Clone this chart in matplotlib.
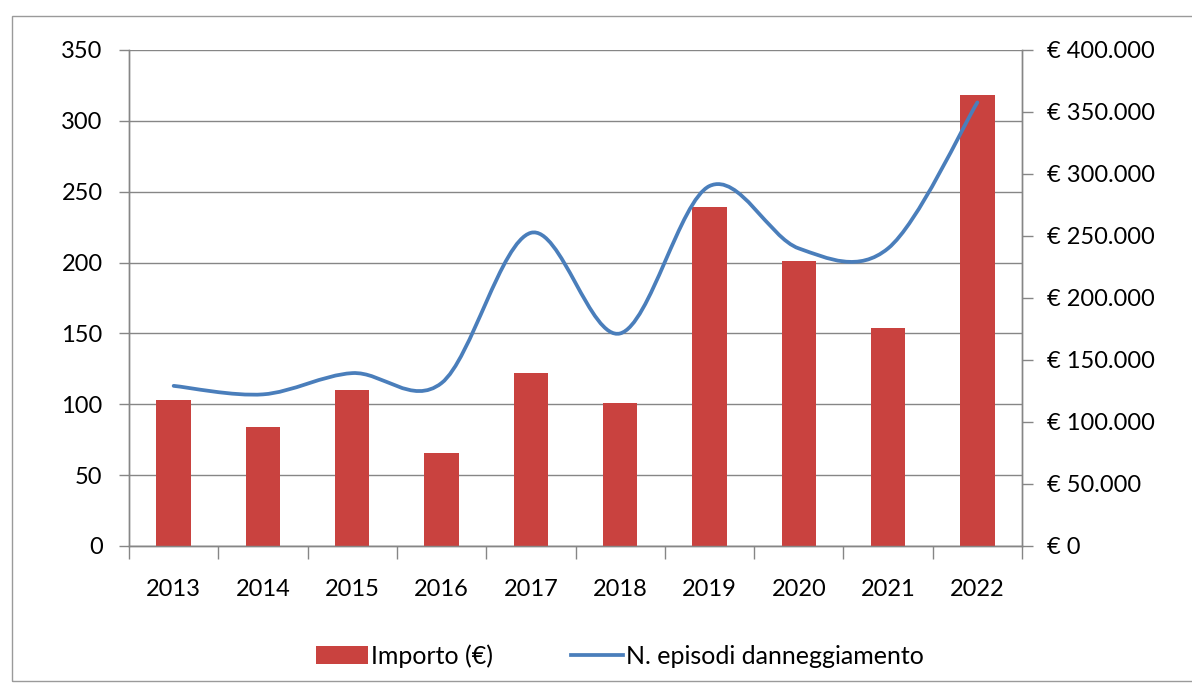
import matplotlib
matplotlib.use("Agg")
import matplotlib.pyplot as plt
from matplotlib.path import Path
from matplotlib.patches import PathPatch, Rectangle
from matplotlib.lines import Line2D
from matplotlib.ticker import FuncFormatter, FixedLocator

# data
years = ["2013", "2014", "2015", "2016", "2017", "2018", "2019", "2020", "2021", "2022"]
importo = [117500, 95800, 125600, 74900, 139400, 115000, 273100, 229700, 175500, 364000]
episodi = [113, 107, 122, 115, 221, 150, 254, 210, 210, 313]

left_ticks = [0, 50, 100, 150, 200, 250, 300, 350]
right_ticks = [0, 50000, 100000, 150000, 200000, 250000, 300000, 350000, 400000]

plt.rcParams["font.family"] = ["Lato", "DejaVu Sans"]
FS = 17
GRID = "#868686"
BAR = "#C9423F"
LINE = "#4A7EBB"

fig = plt.figure(figsize=(11.92, 6.87), dpi=100)
fig.patch.set_facecolor("white")

# outer frame of the chart object
fig.patches.append(Rectangle((12 / 1192, 1 - 681 / 687), 1.2, (681 - 16) / 687,
                             transform=fig.transFigure, fill=False,
                             edgecolor="#9A9A9A", linewidth=1.0))

rect = [129 / 1192, 1 - 546 / 687, (1022 - 129) / 1192, (546 - 50) / 687]
ax = fig.add_axes(rect)          # left axis + grid (bottom layer)
ax2 = ax.twinx()                 # euro axis with bars
ax3 = ax2.twinx()                # line, same scale as left axis
ax3.axis("off")
ax2.yaxis.tick_right()           # twinx moved it to the left, put it back
ax2.yaxis.set_label_position("right")

x = list(range(len(years)))
n = len(years)

ax.set_ylim(0, 350)
ax.yaxis.set_major_locator(FixedLocator(left_ticks))
ax.grid(True, axis="y", color=GRID, linewidth=1.0)
ax.set_axisbelow(True)

# bars on the euro axis
bars = ax2.bar(x, importo, width=0.385, color=BAR, zorder=2)
ax2.set_ylim(0, 400000)
ax2.yaxis.set_major_locator(FixedLocator(right_ticks))
ax2.yaxis.set_major_formatter(FuncFormatter(lambda v, p: "€ " + f"{int(v):,}".replace(",", ".")))

# smoothed line (Excel style bezier through the points)
verts = [(x[0], episodi[0])]
codes = [Path.MOVETO]
for i in range(n - 1):
    p0 = (x[max(i - 1, 0)], episodi[max(i - 1, 0)])
    p1 = (x[i], episodi[i])
    p2 = (x[i + 1], episodi[i + 1])
    p3 = (x[min(i + 2, n - 1)], episodi[min(i + 2, n - 1)])
    c1 = (p1[0] + (p2[0] - p0[0]) / 6, p1[1] + (p2[1] - p0[1]) / 6)
    c2 = (p2[0] - (p3[0] - p1[0]) / 6, p2[1] - (p3[1] - p1[1]) / 6)
    verts += [c1, c2, p2]
    codes += [Path.CURVE4] * 3
ax3.add_patch(PathPatch(Path(verts, codes), fill=False, edgecolor=LINE,
                        linewidth=2.7, capstyle="round", zorder=3))
ax3.set_ylim(0, 350)
ax.set_xlim(-0.5, n - 0.5)

# x axis: ticks at category boundaries, labels centred
ax.set_xticks([i - 0.5 for i in range(n + 1)])
ax.set_xticklabels([])
ax.set_xticks(x, minor=True)
ax.set_xticklabels(years, minor=True, fontsize=FS)
ax.tick_params(axis="x", which="major", length=9, color=GRID, width=1)
ax.tick_params(axis="x", which="minor", length=0, pad=24)

ax.tick_params(axis="y", length=7, color=GRID, width=1, labelsize=FS, pad=12)
ax2.tick_params(axis="y", length=8, color=GRID, width=1, labelsize=FS, pad=10,
                left=False, labelleft=False, right=True, labelright=True)

for a in (ax, ax2):
    a.spines["top"].set_visible(False)
    for s in ("left", "right", "bottom"):
        a.spines[s].set_color(GRID)
        a.spines[s].set_linewidth(1.0)

line_handle = Line2D([], [], color=LINE, linewidth=2.7)
fig.legend([bars, line_handle], ["Importo (€)", "N. episodi danneggiamento"],
           loc="center", bbox_to_anchor=(620 / 1192, 1 - 656 / 687), ncol=2,
           frameon=False, fontsize=18, handlelength=2.1, handletextpad=0.12,
           columnspacing=3.1)

fig.savefig("out.png", dpi=100)
plt.close(fig)
